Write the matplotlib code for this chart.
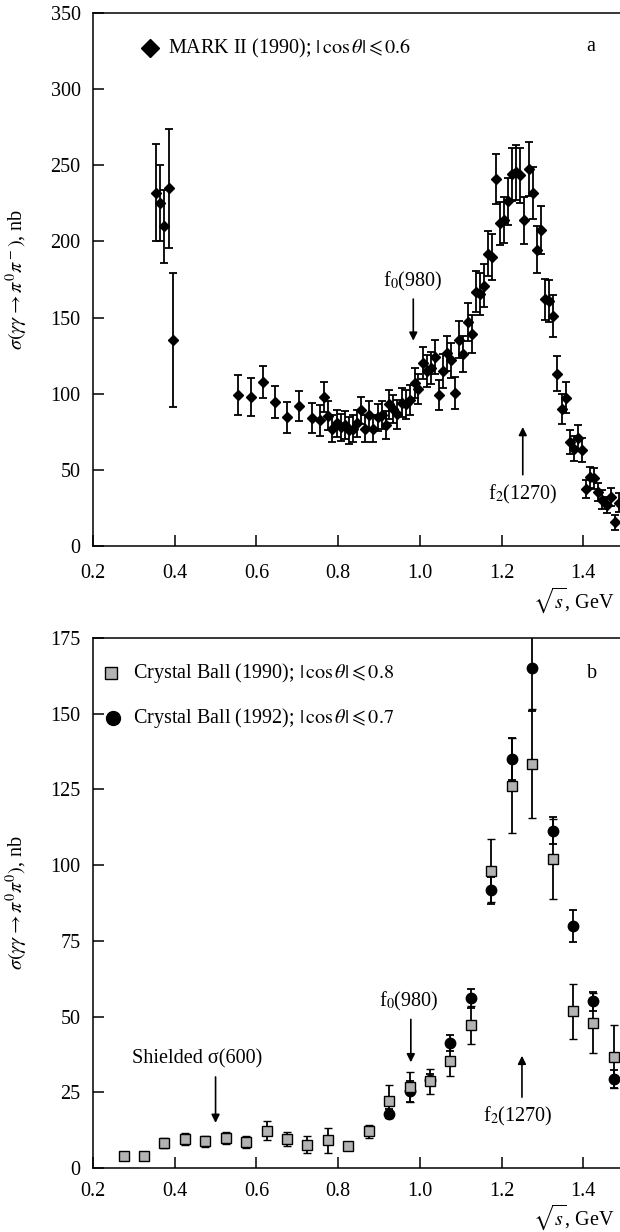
import numpy as np
import matplotlib
matplotlib.use("Agg")
import matplotlib.pyplot as plt

plt.rcParams['font.family'] = ['Liberation Serif', 'DejaVu Serif']
plt.rcParams['mathtext.fontset'] = 'stix'
plt.rcParams['font.size'] = 14.5

# MARK II (1990), gamma gamma -> pi pi, |cos theta| < 0.6
mk_x = [0.355, 0.365, 0.375, 0.385, 0.395,
        0.556, 0.586, 0.615, 0.646, 0.676, 0.705, 0.735,
        0.756, 0.765, 0.776, 0.786, 0.797, 0.806, 0.817, 0.827, 0.837, 0.847,
        0.857, 0.867, 0.876, 0.886, 0.897, 0.907, 0.917, 0.925, 0.935, 0.945,
        0.956, 0.966, 0.976, 0.987, 0.996, 1.007, 1.017, 1.027, 1.036, 1.047,
        1.057, 1.067, 1.076, 1.086, 1.097, 1.106, 1.117, 1.127, 1.137, 1.147,
        1.157, 1.168, 1.177, 1.187, 1.196, 1.206, 1.216, 1.226, 1.235, 1.245,
        1.256, 1.267, 1.276, 1.287, 1.297, 1.307, 1.317, 1.327, 1.337, 1.347,
        1.357, 1.368, 1.377, 1.387, 1.397, 1.407, 1.417, 1.426, 1.437, 1.447,
        1.458, 1.467, 1.478, 1.488]
mk_y = [232, 225, 210, 235, 135,
        99, 98, 107.5, 94.5, 84.5, 92, 84,
        82.5, 98, 85.5, 77, 80.5, 78, 79.5, 76, 77, 80.5,
        89, 77, 86, 77, 84.5, 86, 79.5, 93, 90, 86.5,
        94, 93, 96, 107, 103, 120, 115, 117, 124, 99,
        115, 126.5, 122, 100.5, 135.5, 126, 147, 139, 167, 165.5,
        171, 192, 190, 241, 212, 214, 226.5, 244, 245.5, 243.5,
        214, 247.5, 232, 194.5, 207.5, 162, 161, 151, 113, 90,
        97.5, 68.5, 64, 71, 63, 37.5, 45, 44.5, 35.5, 30.5,
        27, 32, 15.5, 28.5]
mk_err = [32, 25, 24, 39, 44,
          13, 12.5, 10.5, 10.5, 10, 10, 10,
          10, 10, 9.5, 9, 9, 9, 9, 9, 9, 9,
          9, 9, 9, 9, 9, 9, 9, 9.5, 9.5, 9.5,
          9.5, 9.5, 10, 10, 10, 10.5, 10.5, 10.5, 11, 10,
          11, 11.5, 11.5, 10.5, 12, 12, 12.5, 12.5, 13.5, 13.5,
          14, 15, 15, 16.5, 14, 15, 15.5, 17.5, 18, 18,
          15.5, 17.8, 17, 15.5, 16, 13.6, 13.6, 13.8, 11.5, 10,
          10, 8, 8, 8.5, 8, 6, 7, 7, 6, 6,
          5, 6, 5, 6]

# Crystal Ball (1990), |cos theta| < 0.8
cb90_x = [0.275, 0.325, 0.375, 0.425, 0.475, 0.525, 0.575, 0.625, 0.675,
          0.725, 0.775, 0.825, 0.875, 0.925, 0.975, 1.025, 1.075, 1.125,
          1.175, 1.225, 1.275, 1.325, 1.375, 1.425, 1.475]
cb90_y = [3.9, 3.9, 8.2, 9.6, 8.8, 9.9, 8.5, 12.3, 9.6,
          7.7, 9.1, 7.4, 12.1, 22, 26.7, 28.6, 35.5, 47.3,
          98.2, 126.3, 133.5, 102.1, 51.7, 47.9, 36.8]
cb90_err = [0.8, 0.8, 1.7, 2.1, 1.8, 2.1, 2.0, 3.2, 2.4,
            2.8, 4.0, 1.2, 2.2, 5.4, 5.0, 4.0, 5.0, 6.2,
            10.5, 15.6, 18.0, 13.3, 9.2, 10.0, 10.5]

# Crystal Ball (1992), |cos theta| < 0.7
cb92_x = [0.925, 0.975, 1.025, 1.075, 1.125, 1.175, 1.225, 1.275,
          1.325, 1.375, 1.425, 1.475]
cb92_y = [17.9, 25.3, 29.0, 41.3, 56.0, 91.7, 135.0, 165.0,
          111.4, 80.0, 55.0, 29.4]
cb92_err = [1.5, 3.5, 2.0, 2.7, 3.2, 4.4, 7.0, 14.0,
            4.5, 5.2, 3.0, 3.0]

fig = plt.figure(figsize=(6.2, 12.32), dpi=100)
ax1 = fig.add_axes([0.15, 0.5568, 0.85, 0.4326])
ax2 = fig.add_axes([0.15, 0.0519, 0.85, 0.4302])

arrow = dict(arrowstyle='-|>', color='black', lw=1.2, mutation_scale=12)

for ax, xpad, xl_y in ((ax1, 13, -0.074), (ax2, 10, -0.064)):
    ax.set_xlim(0.2, 1.49)
    ax.set_xticks([0.2, 0.4, 0.6, 0.8, 1.0, 1.2, 1.4])
    ax.set_xticklabels(['0.2', '0.4', '0.6', '0.8', '1.0', '1.2', '1.4'])
    ax.tick_params(direction='in', length=8, width=1.1, labelsize=14.5,
                   top=False, right=False)
    ax.tick_params(axis='x', pad=xpad)
    ax.tick_params(axis='y', pad=9)
    ax.spines['right'].set_visible(False)
    for s in ('left', 'bottom', 'top'):
        ax.spines[s].set_linewidth(1.1)
    ax.set_xlabel(r'$\sqrt{s}$, GeV', fontsize=14.5)
    ax.xaxis.set_label_coords(0.99, xl_y)
    ax.xaxis.label.set_horizontalalignment('right')

# panel a
ax1.set_ylim(0, 350)
ax1.set_yticks(np.arange(0, 351, 50))
ax1.errorbar(mk_x, mk_y, yerr=mk_err, fmt='D', color='black', ms=5,
             elinewidth=1.3, capsize=3.2, capthick=1.3)
ax1.set_ylabel(r'$\sigma(\gamma\gamma \rightarrow \pi^0\pi^-)$, nb', fontsize=14.5)
ax1.yaxis.set_label_coords(-0.12, 0.5)

ax1.plot([0.108], [0.934], 'D', color='black', ms=9.5, transform=ax1.transAxes)
ax1.text(0.142, 0.934, r'MARK II (1990); $|\,\cos\theta| \leqslant 0.6$',
         transform=ax1.transAxes, va='center', ha='left')
ax1.text(0.945, 0.937, 'a', transform=ax1.transAxes, va='center', ha='center')

ax1.annotate('', xy=(0.984, 133), xytext=(0.984, 164), arrowprops=arrow)
ax1.text(0.982, 174, r'f$_0$(980)', ha='center', va='center')
ax1.annotate('', xy=(1.252, 80), xytext=(1.252, 45), arrowprops=arrow)
ax1.text(1.252, 34, r'f$_2$(1270)', ha='center', va='center')

# panel b
ax2.set_ylim(0, 175)
ax2.set_yticks(np.arange(0, 176, 25))
ax2.errorbar(cb92_x, cb92_y, yerr=cb92_err, fmt='o', color='black', ms=7.5,
             elinewidth=1.3, capsize=3.2, capthick=1.3, zorder=3)
ax2.errorbar(cb90_x, cb90_y, yerr=cb90_err, fmt='s', mfc='#b3b3b3', mec='black',
             mew=1.0, ecolor='black', ms=6.5, elinewidth=1.3, capsize=3.2,
             capthick=1.3, zorder=4)
ax2.set_ylabel(r'$\sigma(\gamma\gamma \rightarrow \pi^0\pi^0)$, nb', fontsize=14.5)
ax2.yaxis.set_label_coords(-0.12, 0.5)

ax2.plot([0.035], [0.934], 's', mfc='#b3b3b3', mec='black', mew=1.0, ms=8,
         transform=ax2.transAxes)
ax2.text(0.076, 0.934, r'Crystal Ball (1990); $|\,\cos\theta| \leqslant 0.8$',
         transform=ax2.transAxes, va='center', ha='left')
ax2.plot([0.038], [0.849], 'o', color='black', ms=10, transform=ax2.transAxes)
ax2.text(0.076, 0.849, r'Crystal Ball (1992); $|\,\cos\theta| \leqslant 0.7$',
         transform=ax2.transAxes, va='center', ha='left')
ax2.text(0.947, 0.934, 'b', transform=ax2.transAxes, va='center', ha='center')

ax2.annotate('', xy=(0.5, 14), xytext=(0.5, 31), arrowprops=arrow)
ax2.text(0.454, 36, 'Shielded σ(600)', ha='center', va='center')
ax2.annotate('', xy=(0.978, 34), xytext=(0.978, 50), arrowprops=arrow)
ax2.text(0.974, 55, r'f$_0$(980)', ha='center', va='center')
ax2.annotate('', xy=(1.25, 38), xytext=(1.25, 22.5), arrowprops=arrow)
ax2.text(1.24, 17, r'f$_2$(1270)', ha='center', va='center')

fig.savefig('out.png', dpi=100)
